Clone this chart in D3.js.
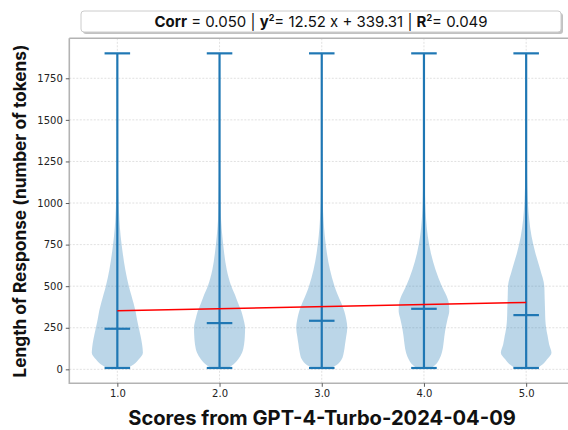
<!DOCTYPE html>
<html><head><meta charset="utf-8">
<script src="https://cdn.jsdelivr.net/npm/d3@7"></script>
<style>body{margin:0;background:#fff} svg{display:block}</style>
</head><body><svg id="c" width="568" height="430"></svg>
<script>
// ---- data ----
const categories = [1.0, 2.0, 3.0, 4.0, 5.0];
const xTickLabels = ["1.0", "2.0", "3.0", "4.0", "5.0"];
const yTickValues = [0, 250, 500, 750, 1000, 1250, 1500, 1750];
const means = [244, 278, 292, 364, 326];
const mins = [8, 8, 8, 8, 8];
const maxs = [1900, 1900, 1900, 1900, 1900];
const densityLevels = [8, 30, 60, 100, 150, 200, 250, 300, 350, 400, 450, 500, 600, 700, 800, 900, 1000, 1200, 1400, 1600, 1750, 1900];
const density1 = [0.42, 0.65, 0.84, 1.0, 0.97, 0.91, 0.84, 0.77, 0.71, 0.63, 0.54, 0.45, 0.31, 0.21, 0.13, 0.08, 0.05, 0.025, 0.015, 0.015, 0.02, 0.005];
const density2 = [0.35, 0.55, 0.73, 0.88, 0.96, 0.99, 1.0, 0.94, 0.85, 0.72, 0.6, 0.46, 0.28, 0.18, 0.11, 0.06, 0.04, 0.02, 0.01, 0.008, 0.006, 0.003];
const density3 = [0.38, 0.62, 0.78, 0.86, 0.91, 0.96, 1.0, 0.96, 0.88, 0.76, 0.62, 0.5, 0.32, 0.2, 0.12, 0.07, 0.04, 0.02, 0.01, 0.008, 0.006, 0.003];
const density4 = [0.3, 0.47, 0.6, 0.7, 0.76, 0.8, 0.85, 0.92, 0.99, 0.97, 0.86, 0.7, 0.45, 0.27, 0.15, 0.085, 0.05, 0.025, 0.012, 0.008, 0.006, 0.003];
const density5 = [0.45, 0.65, 0.82, 0.99, 0.9, 0.84, 0.78, 0.75, 0.74, 0.73, 0.72, 0.71, 0.55, 0.36, 0.21, 0.12, 0.07, 0.03, 0.015, 0.01, 0.008, 0.004];
const densities = [density1, density2, density3, density4, density5];
const fitSlope = 12.52;
const fitIntercept = 339.31;
const corrText = "0.050";
const r2Text = "0.049";

// ---- layout ----
const svg = d3.select("#c");
const x = d3.scaleLinear().domain([0.53, 5.47]).range([69.3, 574.2]);
const y = d3.scaleLinear().domain([-84, 1990.5]).range([383.3, 38.3]);
const blue = "#1f77b4";
const pL = x.range()[0], pR = x.range()[1], pT = y.range()[1], pB = y.range()[0];

// grid
const grid = svg.append("g");
grid.selectAll("line.hy").data(yTickValues).join("line")
  .attr("x1", pL).attr("x2", pR).attr("y1", d => y(d)).attr("y2", d => y(d))
  .attr("stroke", "#d9d9d9").attr("stroke-width", 0.8).attr("stroke-dasharray", "2,1.5");
grid.selectAll("line.vx").data(categories).join("line")
  .attr("x1", d => x(d)).attr("x2", d => x(d)).attr("y1", pT).attr("y2", pB)
  .attr("stroke", "#d9d9d9").attr("stroke-width", 0.8).attr("stroke-dasharray", "2,1.5");

// violins
const area = d3.area()
  .curve(d3.curveMonotoneY)
  .y(d => y(d.v));
categories.forEach((c, i) => {
  const pts = densityLevels.map((v, j) => ({v, w: densities[i][j]}));
  svg.append("path").datum(pts)
    .attr("d", area.x0(d => x(c - d.w * 0.25)).x1(d => x(c + d.w * 0.25)))
    .attr("fill", blue).attr("fill-opacity", 0.3);
});
const lines = svg.append("g").attr("stroke", blue).attr("stroke-width", 2.2);
categories.forEach((c, i) => {
  lines.append("line").attr("x1", x(c)).attr("x2", x(c)).attr("y1", y(mins[i])).attr("y2", y(maxs[i]));
  [mins[i], maxs[i], means[i]].forEach(v => {
    lines.append("line").attr("x1", x(c - 0.125)).attr("x2", x(c + 0.125)).attr("y1", y(v)).attr("y2", y(v));
  });
});

// regression line
const xa = categories[0], xb = categories[categories.length - 1];
svg.append("line")
  .attr("x1", x(xa)).attr("x2", x(xb))
  .attr("y1", y(fitSlope * xa + fitIntercept)).attr("y2", y(fitSlope * xb + fitIntercept))
  .attr("stroke", "#ff0000").attr("stroke-width", 1.5);

// spines
const sp = svg.append("g").attr("stroke", "#b3b3b3").attr("stroke-width", 1.6).attr("fill", "none");
sp.append("path").attr("d", `M${pL},${pT}V${pB}H${pR}`);
sp.append("line").attr("x1", pL).attr("x2", pR).attr("y1", pT).attr("y2", pT);

// y axis
const yAxis = d3.axisLeft(y).tickValues(yTickValues).tickFormat(d3.format("d")).tickSize(3.5).tickPadding(3);
const gy = svg.append("g").attr("transform", `translate(${pL},0)`).call(yAxis);
gy.select(".domain").remove();
gy.selectAll("line").attr("stroke", "#333").attr("stroke-width", 0.8);
gy.selectAll("text").attr("font-family", "DejaVu Sans").attr("font-size", 10).attr("fill", "#222");

// x axis
const xAxis = d3.axisBottom(x).tickValues(categories).tickFormat((d, i) => xTickLabels[i]).tickSize(3.5).tickPadding(3);
const gx = svg.append("g").attr("transform", `translate(0,${pB})`).call(xAxis);
gx.select(".domain").remove();
gx.selectAll("line").attr("stroke", "#333").attr("stroke-width", 0.8);
gx.selectAll("text").attr("font-family", "DejaVu Sans").attr("font-size", 10).attr("fill", "#222");

function fitWidth(sel, target) {
  const w = sel.node().getComputedTextLength();
  const fs = parseFloat(sel.attr("font-size"));
  if (w > 0) sel.attr("font-size", fs * target / w);
}

// axis titles
const yt = svg.append("text")
  .attr("transform", "translate(26,211) rotate(-90)")
  .attr("text-anchor", "middle")
  .attr("font-family", "Inter").attr("font-weight", "bold").attr("font-size", 17).attr("fill", "#111")
  .text("Length of Response (number of tokens)");
fitWidth(yt, 333);
const xt = svg.append("text")
  .attr("x", 322).attr("y", 425)
  .attr("text-anchor", "middle")
  .attr("font-family", "Inter").attr("font-weight", "bold").attr("font-size", 19).attr("fill", "#111")
  .text("Scores from GPT-4-Turbo-2024-04-09");
fitWidth(xt, 388);

// legend box
svg.append("rect").attr("x", 83).attr("y", 13).attr("width", 480).attr("height", 21).attr("rx", 3)
  .attr("fill", "#999").attr("opacity", 0.6);
svg.append("rect").attr("x", 81).attr("y", 11).attr("width", 480).attr("height", 21).attr("rx", 3)
  .attr("fill", "#fff").attr("stroke", "#cccccc").attr("stroke-width", 1);
const lt = svg.append("text").attr("x", 321).attr("y", 27)
  .attr("text-anchor", "middle").attr("font-family", "Inter").attr("font-size", 14).attr("fill", "#111");
lt.append("tspan").attr("font-weight", "bold").text("Corr");
lt.append("tspan").text(" = " + corrText + " | ");
lt.append("tspan").attr("font-weight", "bold").text("y");
lt.append("tspan").attr("font-weight", "bold").attr("font-size", 9).attr("dy", -6).text("2");
lt.append("tspan").attr("dy", 6).text("= " + fitSlope.toFixed(2) + " x + " + fitIntercept.toFixed(2) + " | ");
lt.append("tspan").attr("font-weight", "bold").text("R");
lt.append("tspan").attr("font-weight", "bold").attr("font-size", 9).attr("dy", -6).text("2");
lt.append("tspan").attr("dy", 6).text("= " + r2Text);
fitWidth(lt, 334);
</script></body></html>
